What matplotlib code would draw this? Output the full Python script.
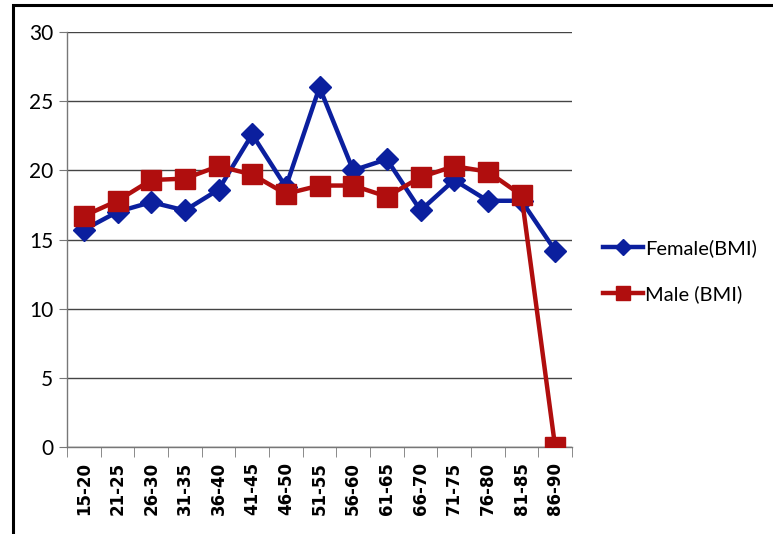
import numpy as np
import matplotlib
matplotlib.use("Agg")
import matplotlib.pyplot as plt
from matplotlib.patches import Rectangle

age_groups = ['15-20', '21-25', '26-30', '31-35', '36-40', '41-45', '46-50', '51-55',
              '56-60', '61-65', '66-70', '71-75', '76-80', '81-85', '86-90']
female_bmi = [15.7, 17.0, 17.7, 17.1, 18.6, 22.6, 18.8, 26.0, 20.0, 20.8, 17.1, 19.3, 17.8, 17.8, 14.2]
male_bmi = [16.7, 17.8, 19.3, 19.4, 20.3, 19.7, 18.3, 18.9, 18.9, 18.1, 19.5, 20.3, 19.9, 18.2, 0.0]

blue = '#0B1F9E'
red = '#B00E0E'

fig = plt.figure(figsize=(7.73, 5.34), dpi=100)
ax = fig.add_axes([67 / 773, 1 - 447 / 534, (572 - 67) / 773, (447 - 32) / 534])

x = np.arange(len(age_groups))
ax.plot(x, female_bmi, color=blue, lw=3.2, marker='D', markersize=11, label='Female(BMI)', zorder=3)
ax.plot(x, male_bmi, color=red, lw=3.2, marker='s', markersize=14, label='Male (BMI)', zorder=4)

ax.set_xlim(-0.5, len(age_groups) - 0.5)
ax.set_ylim(0, 30)
ax.set_yticks(range(0, 31, 5))
ax.grid(axis='y', color='#444444', lw=1.0)
ax.set_axisbelow(True)

ax.set_xticks(x)
ax.set_xticklabels(age_groups, rotation=90, fontsize=12, fontweight='bold', family='DejaVu Sans')
ax.set_xticks(np.arange(-0.5, len(age_groups), 1), minor=True)
ax.tick_params(axis='x', which='major', length=0, pad=11)
ax.tick_params(axis='x', which='minor', length=7, color='#777777', direction='out')
ax.tick_params(axis='y', length=6, color='#777777', labelsize=15, pad=4)
for lab in ax.get_yticklabels():
    lab.set_family('Lato')

for s in ['top', 'right']:
    ax.spines[s].set_visible(False)
for s in ['left', 'bottom']:
    ax.spines[s].set_color('#777777')
    ax.spines[s].set_linewidth(1.0)

leg = ax.legend(loc='center left', bbox_to_anchor=(1.025, 0.424), frameon=False,
                prop={'family': 'Lato', 'size': 14.5}, handlelength=2.0, handletextpad=0.1,
                labelspacing=1.4, markerscale=0.7)

fig.patches.append(Rectangle((13 / 773, -0.05), 1.2, 1 - 5 / 534 + 0.05, transform=fig.transFigure,
                             fill=False, edgecolor='black', lw=2.2))

fig.savefig('out.png', dpi=100)
